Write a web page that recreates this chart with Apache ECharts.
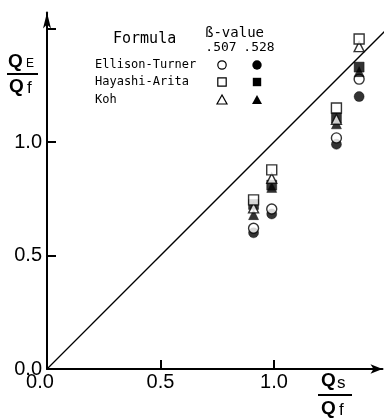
<!DOCTYPE html>
<html>
<head>
<meta charset="utf-8">
<script src="https://cdn.jsdelivr.net/npm/echarts@6/dist/echarts.min.js"></script>
<style>
  html, body { margin: 0; padding: 0; background: #fff; }
  #chart { width: 390px; height: 420px; }
</style>
</head>
<body>
<div id="chart"></div>
<script>
// Flow-ratio comparison: Q_E/Q_f against Q_s/Q_f for three formulas, two beta values.
const xRatio = [0.91, 0.99, 1.275, 1.375];

const ellisonTurner507 = [0.62, 0.705, 1.018, 1.277];
const ellisonTurner528 = [0.60, 0.683, 0.99, 1.20];
const hayashiArita507 = [0.745, 0.877, 1.15, 1.454];
const hayashiArita528 = [0.725, 0.81, 1.106, 1.33];
const koh507 = [0.71, 0.84, 1.10, 1.42];
const koh528 = [0.68, 0.80, 1.08, 1.31];

const equalityLine = [0, 1.51];

const xLabelValues = [0, 0.5, 1.0];
const yLabelValues = [0, 0.5, 1.0];
const xTickValues = [0.5, 1.0];
const yTickValues = [0.5, 1.0, 1.5];

const formulaNames = ['Ellison-Turner', 'Hayashi-Arita', 'Koh'];
const betaValues = ['.507', '.528'];

const pairs = ys => xRatio.map((x, i) => [x, ys[i]]);

const INK = '#000';
const openStyle = { color: '#fff', borderColor: INK, borderWidth: 1.4 };
const fillStyle = { color: INK, borderColor: INK, borderWidth: 0.5 };

// plot scale: pixels per unit on both axes
const PX = 227;
const LEFT = 47, BOTTOM = 51;
const X_MAX = 1.478, Y_MAX = 1.57;

function scatter(name, ys, symbol, style, z) {
  return {
    name, type: 'scatter', data: pairs(ys), symbol, symbolSize: 10,
    itemStyle: style, z, silent: true
  };
}

const labelFont = { fontFamily: '"Liberation Sans", Arial, sans-serif', fontSize: 20, color: INK };
const monoFont = '"DejaVu Sans Mono", monospace';
const qFont = 'bold 19px "Liberation Sans", Arial, sans-serif';
const subFont = px => px + 'px "Liberation Sans", Arial, sans-serif';

function txt(text, x, y, font, align) {
  return { type: 'text', x, y, silent: true,
    style: { text, font, fill: INK, align: align || 'left', verticalAlign: 'middle' } };
}
function block(x, y, width, height, layer) {
  return { type: 'rect', silent: true, z: 100, zlevel: layer || 0,
    shape: { x, y, width, height }, style: { fill: INK } };
}
const bar = (x1, x2, y) => block(x1, y - 1, x2 - x1, 2);

// Legend table: formula rows, beta-value columns
const legendRowsY = [65, 82, 100];
const colOpenX = 222, colFillX = 257, r = 4.2;
const legend = [
  txt('Formula', 113, 39, '15px ' + monoFont),
  txt('\u00DF-value', 205, 33, '14px ' + monoFont),
  txt(betaValues[0], 221, 48, '13px ' + monoFont, 'center'),
  txt(betaValues[1], 259, 48, '13px ' + monoFont, 'center')
];
formulaNames.forEach((n, i) => legend.push(txt(n, 95, legendRowsY[i], '12px ' + monoFont)));
legend.push(
  { type: 'circle', silent: true, shape: { cx: colOpenX, cy: legendRowsY[0], r },
    style: { fill: '#fff', stroke: INK, lineWidth: 1.2 } },
  { type: 'circle', silent: true, shape: { cx: colFillX, cy: legendRowsY[0], r: r + 0.5 },
    style: { fill: INK } },
  { type: 'rect', silent: true, shape: { x: colOpenX - r, y: legendRowsY[1] - r, width: 2 * r, height: 2 * r },
    style: { fill: '#fff', stroke: INK, lineWidth: 1.2 } },
  { type: 'rect', silent: true, shape: { x: colFillX - r, y: legendRowsY[1] - r, width: 2 * r, height: 2 * r },
    style: { fill: INK } },
  { type: 'polygon', silent: true, shape: { points: [[colOpenX, legendRowsY[2] - 5], [colOpenX - 5, legendRowsY[2] + 4], [colOpenX + 5, legendRowsY[2] + 4]] },
    style: { fill: '#fff', stroke: INK, lineWidth: 1.2 } },
  { type: 'polygon', silent: true, shape: { points: [[colFillX, legendRowsY[2] - 5], [colFillX - 5, legendRowsY[2] + 4], [colFillX + 5, legendRowsY[2] + 4]] },
    style: { fill: INK } }
);

// Axis titles drawn as stacked fractions
const axisTitles = [
  txt('Q', 8, 62, qFont), txt('E', 26, 64, subFont(12)),
  bar(7, 38, 74),
  txt('Q', 9, 87, qFont), txt('f', 27, 88, subFont(17)),
  txt('Q', 321, 381, qFont), txt('s', 337, 383, subFont(17)),
  bar(318, 352, 395),
  txt('Q', 321, 409, qFont), txt('f', 339, 410, subFont(17))
];

const hidden = { show: false };

const chart = echarts.init(document.getElementById('chart'), null, { renderer: 'canvas' });
chart.setOption({
  animation: false,
  backgroundColor: '#fff',
  grid: { left: LEFT, bottom: BOTTOM, width: X_MAX * PX, height: Y_MAX * PX, containLabel: false, outerBoundsMode: 'none' },
  xAxis: {
    type: 'value', min: 0, max: X_MAX,
    splitLine: hidden, axisTick: hidden,
    axisLine: { lineStyle: { color: INK, width: 2 }, symbol: ['none', 'arrow'], symbolSize: [7, 12] },
    axisLabel: {
      ...labelFont, margin: 3, customValues: xLabelValues,
      formatter: v => v === 0 ? '{z|0.0}' : v.toFixed(1),
      rich: { z: { ...labelFont, padding: [0, 14, 0, 0] } }
    }
  },
  yAxis: {
    type: 'value', min: 0, max: Y_MAX,
    splitLine: hidden, axisTick: hidden,
    axisLine: { lineStyle: { color: INK, width: 2 }, symbol: ['none', 'arrow'], symbolSize: [6, 16] },
    axisLabel: { ...labelFont, margin: 5, customValues: yLabelValues, formatter: v => v.toFixed(1) }
  },
  series: [
    {
      name: 'Q_E = Q_s', type: 'line', data: equalityLine.map(v => [v, v]),
      symbol: 'none', clip: false, silent: true, z: 1,
      lineStyle: { color: INK, width: 1.3 }
    },
    scatter('Ellison-Turner .528', ellisonTurner528, 'circle', fillStyle, 2),
    scatter('Ellison-Turner .507', ellisonTurner507, 'circle', openStyle, 3),
    scatter('Hayashi-Arita .528', hayashiArita528, 'rect', fillStyle, 4),
    scatter('Koh .528', koh528, 'triangle', fillStyle, 5),
    scatter('Koh .507', koh507, 'triangle', openStyle, 6),
    scatter('Hayashi-Arita .507', hayashiArita507, 'rect', openStyle, 7)
  ],
  graphic: legend.concat(axisTitles)
});

// Inward tick marks on their own layer, positioned through the chart's axis scales
const TICK = 9;
const tickMarks = [];
xTickValues.forEach(v => {
  const [px, py] = chart.convertToPixel({ gridIndex: 0 }, [v, 0]);
  tickMarks.push(block(Math.round(px) - 1, Math.round(py) - TICK, 2, TICK, 1));
});
yTickValues.forEach(v => {
  const [px, py] = chart.convertToPixel({ gridIndex: 0 }, [0, v]);
  tickMarks.push(block(Math.round(px), Math.round(py) - 1, TICK, 2, 1));
});
chart.setOption({ graphic: legend.concat(axisTitles, tickMarks) });
</script>
</body>
</html>
